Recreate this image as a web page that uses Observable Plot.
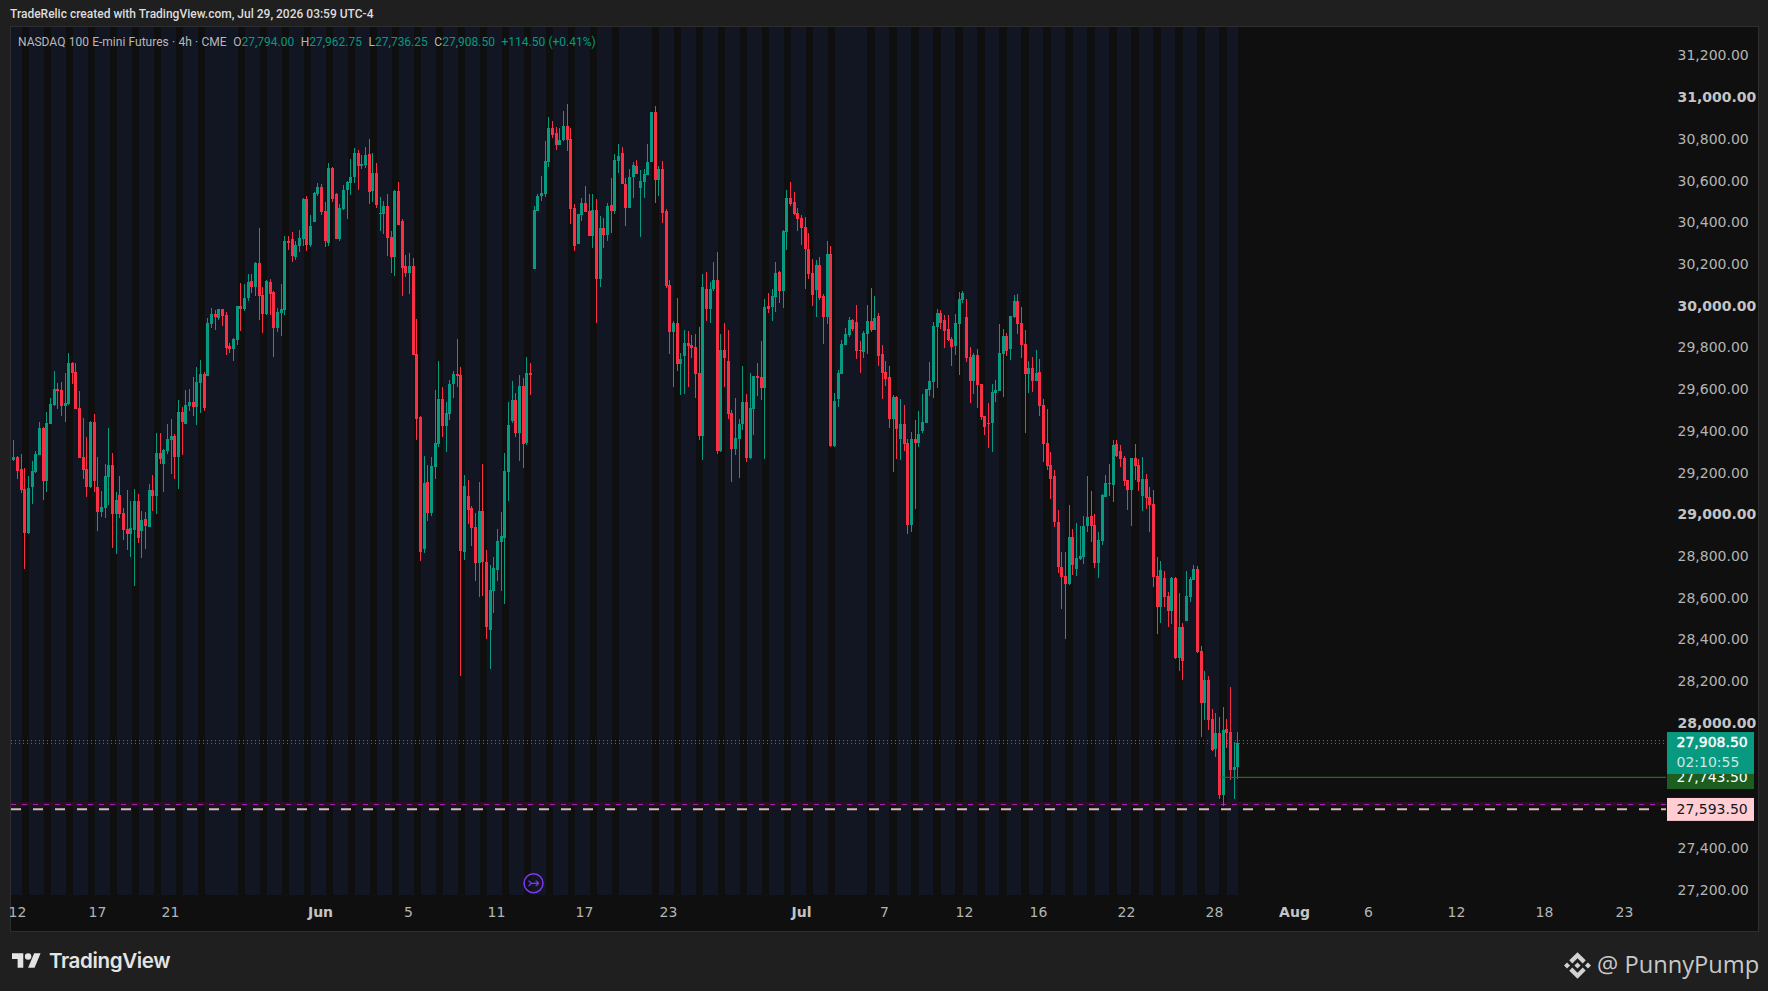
<!DOCTYPE html>
<html><head><meta charset="utf-8">
<script src="https://cdn.jsdelivr.net/npm/d3@7"></script>
<script src="https://cdn.jsdelivr.net/npm/@observablehq/plot@0.6"></script>
<style>
html,body{margin:0;padding:0;background:#1f1f1f;width:1768px;height:991px;overflow:hidden}
#top{position:absolute;left:10px;top:7px;font:500 12px Roboto,sans-serif;color:#dcdcdc;white-space:nowrap}
#panel{position:absolute;left:10px;top:26px;width:1747px;height:904px;background:#0f0f0f;border:1px solid #2e2e2e;box-sizing:content-box}
#chart{position:absolute;left:0;top:27px}
#legend{position:absolute;left:18px;top:35px;font:400 12px Roboto,sans-serif;color:#b8b8b8;white-space:nowrap;word-spacing:.3px}
#legend b{font-weight:400;color:#089981}
#tv{position:absolute;left:12px;top:949px;font:600 20.6px Inter,sans-serif;color:#e4e4e4;white-space:nowrap}
#tv svg{position:absolute;left:0;top:4px}
#tv span{position:absolute;left:37px;top:-1px;letter-spacing:-.4px}
#pp{position:absolute;left:1597px;top:948px;font:400 23.7px "Open Sans",sans-serif;color:#c8c8c8;white-space:nowrap}
#bn{position:absolute;left:1564px;top:952px}
</style></head><body>
<div id="top">TradeRelic created with TradingView.com, Jul 29, 2026 03:59 UTC-4</div>
<div id="panel"></div>
<div id="chart"></div>
<div id="legend">NASDAQ 100 E-mini Futures · 4h · CME &nbsp;O<b>27,794.00</b> &nbsp;H<b>27,962.75</b> &nbsp;L<b>27,736.25</b> &nbsp;C<b>27,908.50</b> &nbsp;<b>+114.50 (+0.41%)</b></div>
<div id="tv"><svg width="29" height="15" viewBox="0 4 36 18"><path fill="#e4e4e4" d="M14 22H7V11H0V4h14v18zM28 22h-8l7.5-18h8L28 22z"/><circle fill="#e4e4e4" cx="20" cy="8" r="4"/></svg><span>TradingView</span></div>
<svg id="bn" width="27" height="27" viewBox="0 0 126 126"><path fill="#d2d2d2" d="M38.73 53.2L63 28.9l24.28 24.29 14.12-14.12L63 .67 24.6 39.07zM0 63l14.12-14.12L28.24 63 14.12 77.12zM38.73 72.8L63 97.08l24.28-24.29 14.13 14.11L63 125.33 24.6 86.93zM97.76 63l14.12-14.12L126 63l-14.12 14.12zM77.32 63L63 48.68 48.68 63 63 77.33z"/></svg>
<div id="pp">@ PunnyPump</div>
<script>
// [open, high, low, close]
const barsMay = [
[29264,29360,29261,29278],[29278,29286,29173,29211],[29221,29293,29108,29121],[29126,29226,28742,28915],[28915,29188,28910,29130],[29135,29260,29055,29212],[29207,29306,29202,29293],[29289,29447,29289,29418],[29418,29423,29073,29164],[29164,29495,29111,29442],
[29437,29562,29437,29533],[29528,29691,29524,29605],[29605,29634,29509,29596],[29600,29639,29476,29524],[29524,29682,29447,29538],[29533,29778,29528,29730],[29730,29735,29629,29682],[29687,29730,29509,29509],[29514,29596,29274,29274],[29279,29466,29173,29217],
[29221,29375,29087,29135],[29135,29452,29130,29447],[29447,29485,29111,29164],[29135,29279,28924,29015],[29015,29116,28991,29039],[29034,29246,28987,29188],[29183,29418,29049,29241],[29241,29298,28843,29006],[29006,29111,28814,29073],[29097,29188,28987,29006],
[29011,29034,28881,28929],[28934,29121,28833,28910],[28910,29068,28800,28939],[28929,29126,28661,29068],[29068,29102,28867,28891],[28924,29020,28795,28977],[28982,29015,28838,28948],[28943,29150,28943,29121],[29121,29193,29020,29092],[29092,29394,29006,29298],
[29298,29394,29246,29270],[29246,29317,29111,29313],[29308,29437,29293,29365],[29361,29461,29198,29380],[29380,29389,29173,29279],[29279,29552,29126,29495],[29495,29519,29289,29447],[29437,29600,29437,29528],[29524,29605,29500,29543],[29543,29663,29476,29519],
[29519,29710,29432,29639],[29634,29744,29490,29677],[29677,29687,29500,29514],[29667,29945,29667,29921],[29916,29993,29897,29964],[29964,29983,29887,29950],[29945,29988,29935,29988],[29988,29988,29906,29954],[29959,29974,29767,29801],[29810,29825,29777,29796],
[29796,29849,29739,29844],[29839,30002,29815,30002],[30002,30113,29882,29988],[29988,30108,29978,30041],[30041,30156,30026,30118],[30122,30156,30065,30094],[30094,30214,30050,30209],[30209,30377,29935,30050],[30055,30094,29873,29964],[29964,30127,29959,30122],
[30118,30132,29959,30060],[30070,30075,29758,29897],[29897,29993,29878,29974],[29969,30108,29859,29988],[29983,30338,29959,30314],[30314,30338,30271,30305],[30324,30358,30214,30242],[30238,30315,30223,30295],[30290,30367,30262,30329],[30325,30520,30291,30516],
[30516,30531,30267,30296],[30296,30440,30286,30387],[30406,30550,30406,30545],[30540,30593,30531,30574]
];
const barsJun = [
[30574,30588,30440,30454],[30459,30502,30286,30315],[30305,30689,30291,30665],[30665,30670,30502,30516],[30540,30545,30325,30325],[30325,30492,30315,30473],[30468,30583,30464,30559],[30559,30603,30420,30598],[30593,30708,30535,30622],[30622,30761,30593,30737],
[30737,30751,30559,30675],[30675,30727,30660,30684],[30679,30766,30665,30727],[30732,30804,30492,30550],[30555,30737,30502,30641],[30641,30689,30473,30488],[30444,30526,30363,30449],[30444,30507,30349,30483],[30483,30540,30243,30329],[30334,30363,30162,30238],
[30238,30559,30147,30555],[30555,30598,30392,30392],[30411,30420,30051,30186],[30195,30248,30143,30162],[30162,30257,30061,30195],[30195,30234,29769,29769],[29773,29941,29361,29461],[29471,29476,28780,28824],[28838,29284,28819,29155],[29159,29241,28972,29011],
[29011,29279,28996,29236],[29231,29600,29174,29346],[29342,29739,29327,29557],[29557,29615,29375,29428],[29428,29543,29303,29490],[29485,29648,29457,29629],[29629,29691,29562,29677],[29677,29845,29615,29667],[29672,29710,28229,28828],[28824,29193,28785,29140],
[29092,29169,28958,29025],[29035,29044,28853,28939],[28943,29010,28685,28771],[28771,29159,28608,29020],[29020,29245,28613,28776],[28776,28833,28407,28464],[28450,28761,28263,28642],[28637,28800,28531,28747],[28737,28934,28685,28876],[28872,29015,28637,28900],
[28891,29298,28574,29212],[29207,29543,29068,29432],[29452,29643,29442,29552],[29552,29586,29375,29394],[29394,29672,29260,29620],[29620,29658,29226,29341],[29346,29758,29337,29682],[29682,29730,29576,29672],[30181,30483,30181,30464],[30459,30540,30459,30531],
[30531,30627,30507,30545],[30540,30794,30526,30699],[30694,30909,30670,30857],[30857,30890,30809,30823],[30833,30862,30751,30775],[30775,30857,30775,30799],[30799,30938,30794,30866],[30866,30972,30747,30799],[30804,30857,30397,30468],[30473,30492,30267,30291],
[30301,30444,30301,30444],[30440,30521,30411,30497],[30497,30579,30454,30454],[30459,30540,30339,30339],[30339,30540,30281,30464],[30464,30516,29922,30133],[30133,30435,30095,30377],[30377,30425,30281,30344],[30344,30497,30315,30483],[30488,30617,30353,30459],
[30459,30732,30444,30703],[30699,30780,30641,30723],[30737,30766,30588,30588],[30588,30617,30387,30473],[30473,30660,30473,30622],[30622,30694,30521,30679],[30675,30703,30636,30636],[30569,30655,30334,30603],[30598,30660,30521,30636],[30631,30780,30631,30694],
[30694,30934,30694,30934],[30934,30962,30497,30607],[30607,30675,30531,30660],[30660,30698,30401,30449],[30459,30468,30090,30099],[30104,30128,29773,29879],[29879,29932,29615,29922],[29922,30042,29692,29725],[29725,29778,29577,29749],[29764,29888,29581,29826],
[29826,29884,29615,29812],[29816,29864,29754,29802],[29807,29869,29562,29677],[29681,29902,29360,29379],[29379,30156,29265,30094],[30084,30166,29931,29988],[29988,30118,29921,30084],[30084,30214,30075,30127],[30127,30261,29293,29307],[29307,29868,29302,29792],
[29792,29921,29614,29753],[29739,29888,29461,29485],[29490,29504,29160,29317],[29317,29561,29289,29370],[29365,29461,29179,29437],[29437,29715,29408,29543],[29543,29581,29255,29274],[29274,29681,29270,29514],[29509,29667,29384,29667],[29667,29729,29571,29657],
[29662,29835,29552,29609],[29609,30036,29269,29998],[30003,30065,29969,29988],[29998,30084,29931,30051],[30046,30214,29974,30161],[30166,30170,30017,30075],[30075,30367,29993,30362],[30358,30559,30271,30521],[30521,30597,30482,30492],[30502,30549,30439,30444],
[30449,30473,30362,30420]
];
const barsJul = [
[30425,30439,30295,30377],[30382,30430,30085,30276],[30276,30353,30132,30156],[30161,30228,30003,30056],[30080,30223,29950,30199],[30199,30238,30032,30041],[30051,30060,29821,29950],[29950,30315,29917,30252],[30252,30291,29327,29332],[29332,29586,29327,29548],
[29557,29696,29519,29682],[29677,29840,29677,29821],[29816,29897,29816,29869],[29864,29950,29854,29936],[29936,29941,29883,29893],[29926,30008,29749,29787],[29792,29835,29682,29787],[29782,29883,29754,29874],[29869,30008,29773,29931],[29931,30089,29878,29888],
[29888,30051,29888,29945],[29955,29969,29715,29763],[29773,29816,29557,29682],[29687,29739,29619,29653],[29663,29715,29418,29461],[29461,29576,29207,29567],[29567,29571,29269,29413],[29365,29557,29264,29437],[29437,29528,29308,29341],[29346,29365,28910,28953],
[28953,29399,28920,29365],[29365,29456,29030,29346],[29346,29500,29327,29389],[29404,29581,29394,29447],[29442,29605,29442,29605],[29600,29735,29572,29643],[29639,29926,29562,29907],[29902,29988,29610,29969],[29969,29984,29893,29921],[29936,29960,29802,29883],
[29893,29960,29835,29840],[29845,29854,29715,29807],[29811,29965,29768,29921],[29917,30070,29672,30037],[30032,30075,30018,30066],[29950,30037,29735,29754],[29758,29806,29538,29643],[29643,29778,29581,29768],[29768,29797,29514,29624],[29629,29629,29456,29471],
[29476,29476,29385,29423],[29442,29538,29322,29437],[29442,29629,29303,29591],[29586,29648,29543,29600],[29596,29917,29596,29778],[29773,29893,29567,29859],[29859,29874,29763,29787],[29797,29955,29744,29955],[29950,30056,29945,30027],[30027,30061,29869,29917],
[29921,29998,29754,29816],[29821,29888,29394,29677],[29677,29739,29586,29706],[29706,29758,29591,29643],[29643,29792,29643,29682],[29687,29749,29476,29524],[29528,29557,29255,29341],[29346,29509,29217,29236],[29241,29303,29078,29174],[29188,29217,28944,28968],
[28968,29025,28724,28752],[28752,28824,28551,28704],[28709,28824,28407,28671],[28671,29049,28666,28896],[28896,28934,28714,28762],[28743,28963,28709,28795],[28791,28949,28786,28805],[28800,28997,28767,28949],[28949,29189,28920,28992],[28997,29117,28872,28949],
[28954,29006,28748,28771],[28771,28920,28700,28882],[28877,29102,28858,29097],[29088,29193,29088,29155],[29155,29246,29093,29150],[29145,29361,29064,29337],[29342,29361,29280,29284],[29308,29337,29232,29270],[29275,29284,29141,29165],[29169,29169,29026,29121],
[29121,29275,28949,29275],[29275,29342,29169,29237],[29241,29270,29117,29160],[29093,29280,29021,29174],[29174,29198,29030,29083],[29088,29136,28920,29050],[29054,29121,28656,28704],[28709,28800,28431,28560],[28560,28781,28484,28738],[28700,28733,28560,28608],
[28613,28632,28465,28541],[28541,28704,28479,28700],[28700,28704,28311,28316],[28316,28628,28254,28465],[28465,28484,28211,28302],[28493,28733,28493,28613],[28608,28704,28585,28695],[28690,28762,28690,28743],[28743,28757,28340,28345],[28350,28374,27937,28100],
[28100,28254,28019,28211],[28211,28230,27971,28019],[28024,28072,27870,27875],[27880,28052,27841,27957],[27957,28033,27640,27659],[27659,28081,27606,27971],[27976,28024,27885,27957],[27961,28177,27731,27779],[27779,27913,27640,27794],[27794,27962.75,27736.25,27908.5]
];
// bar index where each dark (no-session) stripe starts
const sessionGaps = [2.4,8.4,14.4,20.4,26.4,32.4,38.4,44.4,50.4,
61.3,67.3,73.3,79.3,85.3,91.3,97.3,103.3,109.3,115.3,121.3,127.3,133.3,139.3,145.3,151.3,157.3,163.3,
174.2,180.2,186.2,192.2,198.2,204.2,210.2,216.2,222.2,
233.1,239.1,245.1,251.1,257.1,263.1,269.1,275.1,281.1,287.1,293.1,299.1,305.1,311.1,317.1,323.1,329.1];
const minorPrices = [27200,27400,28200,28400,28600,28800,29200,29400,29600,29800,30200,30400,30600,30800,31200];
const majorPrices = [28000,29000,30000,31000];
const dayTickBars = [1,23,42.7,107.8,131.8,155.8,178.7,237.7,259.5,279.7,303.7,327.7,369.7,393.7,417.7,439.6];
const dayTickLabels = ["12","17","21","5","11","17","23","7","12","16","22","28","6","12","18","23"];
const monthTickBars = [83.8,215,349.6];
const monthTickLabels = ["Jun","Jul","Aug"];
const lastClose = 27908.5, prevLine = 27922, greenLevel = 27746, pinkLevel = 27593.5, purpleLevel = 27616;
const labelLevels = {green:27743.5};

const bars = [...barsMay, ...barsJun, ...barsJul].map(([o,h,l,c],i)=>({i,o,h,l,c,col:c>=o?"#089981":"#f92f45"}));
const xDom=[-0.6,451], yDom=[27179.8,31340.9];
const xR=475, xT=453.7;
const fmt=d3.format(",.2f");
const axisFont={fontSize:14,fontFamily:"'DejaVu Sans',sans-serif"};
const chart = Plot.plot({
  width:1768,height:904,marginLeft:11,marginRight:102,marginTop:0,marginBottom:36,
  style:{background:"transparent",overflow:"visible"},
  x:{type:"linear",domain:xDom,round:true,axis:null},
  y:{type:"linear",domain:yDom,axis:null},
  marks:[
    Plot.rectY([0],{x1:xDom[0],x2:334.2,y1:yDom[0],y2:yDom[1],fill:"#111622"}),
    Plot.rectY(sessionGaps,{x1:d=>d,x2:d=>d+2,y1:yDom[0],y2:yDom[1],fill:"#0f0f0f"}),
    Plot.axisY(minorPrices,{anchor:"right",tickSize:0,tickPadding:11,tickFormat:fmt,label:null,fill:"#b4b4b4",dy:-1,textStroke:"none",...axisFont}),
    Plot.axisY(majorPrices,{anchor:"right",tickSize:0,tickPadding:11,tickFormat:fmt,label:null,fill:"#c4c4c4",dy:-1,fontWeight:"bold",...axisFont}),
    Plot.axisX(dayTickBars,{anchor:"bottom",tickSize:0,tickPadding:12,tickFormat:d=>dayTickLabels[dayTickBars.indexOf(d)],label:null,fill:"#b4b4b4",...axisFont}),
    Plot.axisX(monthTickBars,{anchor:"bottom",tickSize:0,tickPadding:12,tickFormat:d=>monthTickLabels[monthTickBars.indexOf(d)],label:null,fill:"#c4c4c4",fontWeight:"bold",...axisFont}),
    Plot.rectY([0],{x1:xDom[0],x2:xDom[1],y1:27605,y2:27626,fill:"#2a1022"}),
    Plot.ruleY([prevLine],{stroke:"#7a7a7a",strokeDasharray:"1,3"}),
    Plot.ruleY([lastClose],{stroke:"#089981",strokeDasharray:"1,3"}),
    Plot.ruleY([purpleLevel],{stroke:"#a020b0",strokeDasharray:"5,6"}),
    Plot.ruleY([pinkLevel],{stroke:"#dcb8b8",strokeWidth:2,strokeDasharray:"10,12"}),
    Plot.ruleX(bars,{x:"i",y1:"l",y2:"h",stroke:"col",strokeWidth:1,shapeRendering:"crispEdges"}),
    Plot.ruleX(bars,{x:"i",y1:"o",y2:"c",stroke:"col",strokeWidth:3,shapeRendering:"crispEdges"}),
    Plot.ruleY([greenLevel],{x1:329.4,x2:xDom[1],stroke:"#1f6b24",strokeWidth:1.2}),
    Plot.dot([0],{x:141.9,y:27239,r:9.5,stroke:"#7c3aed",strokeWidth:1.5,fill:"none"}),
    Plot.text(["↣"],{x:141.9,y:27239,fill:"#7c3aed",fontSize:15,fontFamily:"'DejaVu Sans'"}),
    Plot.rectY([0],{x1:xDom[1]+0.3,x2:xR,y1:27688,y2:27798,fill:"#1b5e20"}),
    Plot.text([fmt(labelLevels.green)],{x:xT,y:labelLevels.green,fill:"#fff",textAnchor:"start",...axisFont}),
    Plot.rectY([0],{x1:xDom[1]+0.3,x2:xR,y1:27760,y2:27961,fill:"#089981"}),
    Plot.text([fmt(lastClose)],{x:xT,y:lastClose,fill:"#fff",stroke:"#fff",strokeWidth:0.4,textAnchor:"start",...axisFont,dy:-1}),
    Plot.text(["02:10:55"],{x:xT,y:27817,fill:"#c8e8e0",textAnchor:"start",...axisFont}),
    Plot.rectY([0],{x1:xDom[1]+0.3,x2:xR,y1:27535,y2:27645,fill:"#ffcdd2"}),
    Plot.text([fmt(pinkLevel)],{x:xT,y:pinkLevel,fill:"#131722",textAnchor:"start",...axisFont})
  ]
});
document.getElementById("chart").appendChild(chart);
</script>
</body></html>
